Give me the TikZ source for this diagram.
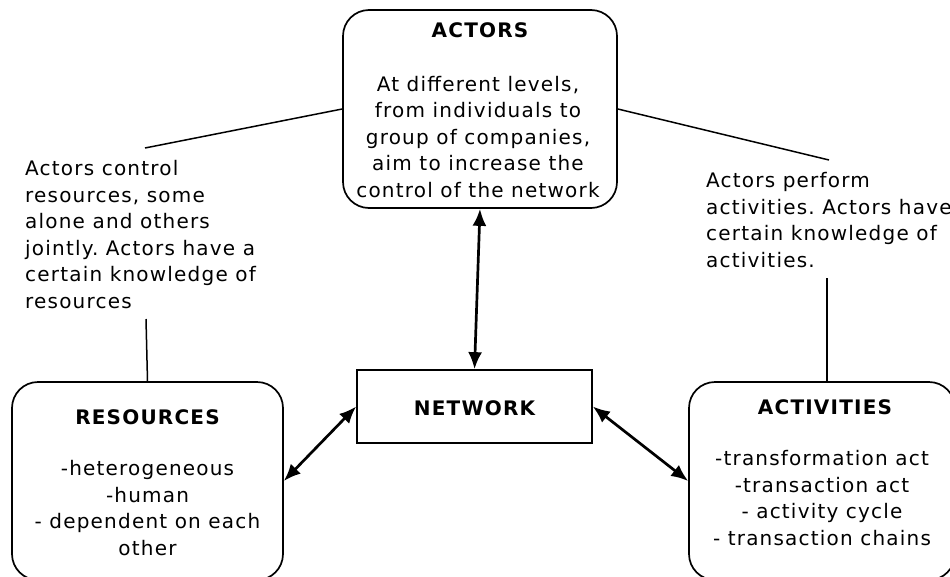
\documentclass[tikz,border=0pt]{standalone}
\usepackage{fontspec}
\setmainfont{DejaVu Sans}[LetterSpace=6]
\usetikzlibrary{arrows.meta}
\frenchspacing
\begin{document}
\begin{tikzpicture}[x=1pt,y=-1pt,
  box/.style={draw, line width=1.7pt, rounded corners=26pt, inner sep=0pt},
  plainbox/.style={draw, line width=1.7pt, inner sep=0pt},
  txt/.style={inner sep=0pt, font=\fontsize{20}{26.5}\selectfont},
  ttl/.style={inner sep=0pt, font=\fontsize{20}{26.5}\selectfont\bfseries},
  link/.style={line width=1.5pt},
  biarrow/.style={line width=2.7pt, {Latex[length=17pt,width=14pt]}-{Latex[length=17pt,width=14pt]}}]
\useasboundingbox (0,0) rectangle (950,576);
\fill[white] (0,0) rectangle (950,576);
\clip (0,0) rectangle (950,576);

% boxes
\node[box, minimum width=274pt, minimum height=198pt] (actors) at (480,109) {};
\node[plainbox, minimum width=235pt, minimum height=73pt] (network) at (474.5,406.5) {};
\node[box, minimum width=271pt, minimum height=198pt] (resources) at (147.5,481) {};
\node[box, minimum width=266pt, minimum height=198pt] (activities) at (822,481) {};

% texts in boxes (base anchor = baseline of the last line)
\node[ttl, anchor=base] (actorsT) at (480,37) {ACTORS};
\node[txt, align=center, anchor=base] (actorsB) at (478,197) {At different levels,\\from individuals to\\group of companies,\\aim to increase the\\control of the network};
\node[ttl, anchor=base] (networkT) at (474.5,415) {NETWORK};
\node[ttl, anchor=base] (resourcesT) at (147.5,424) {RESOURCES};
\node[txt, align=center, anchor=base] (resourcesB) at (147.5,555) {-heterogeneous\\-human\\- dependent on each\\other};
\node[ttl, anchor=base] (activitiesT) at (825,414) {ACTIVITIES};
\node[txt, align=center, anchor=base] (activitiesB) at (822,545) {-transformation act\\-transaction act\\- activity cycle\\- transaction chains};

% side texts
\node[txt, align=left, anchor=base west] (lefttext) at (25,308) {Actors control\\resources, some\\alone and others\\jointly. Actors have a\\certain knowledge of\\resources};
\node[txt, align=left, anchor=base west] (righttext) at (706,267) {Actors perform\\activities. Actors have\\certain knowledge of\\activities.};

% free ends of connectors
\coordinate (lt1) at (145,148);
\coordinate (lt2) at (146,319);
\coordinate (rt1) at (829,160);
\coordinate (rt2) at (827,278);

% connectors
\draw[link] (actors.west) -- (lt1);
\draw[link] (lt2) -- (resources.north);
\draw[link] (actors.east) -- (rt1);
\draw[link] (rt2) -- (rt2 |- activities.north);

\draw[biarrow] (actors.south) -- (network.north);
\draw[biarrow] (resources.east) -- (network.west);
\draw[biarrow] (network.east) -- (activities.west);
\end{tikzpicture}
\end{document}
